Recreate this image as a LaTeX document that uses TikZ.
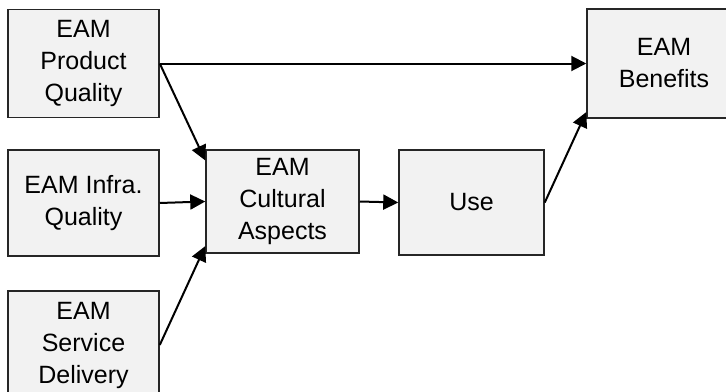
\documentclass[tikz,border=0pt]{standalone}
\usepackage{fontspec}
\setmainfont{Liberation Sans}
\usetikzlibrary{arrows.meta}
\definecolor{boxgray}{HTML}{F2F2F2}
\begin{document}
\begin{tikzpicture}
  [x=0.5pt,y=-0.5pt,
   every node/.style={draw=black!85,line width=0.75pt,fill=boxgray,align=center,
     font=\fontsize{12.5}{16}\selectfont,inner sep=0pt},
   arr/.style={line width=1pt,-{Triangle[length=7.5pt,width=7.5pt]}}]
\useasboundingbox (0,0) rectangle (726,391);
\node (prod)[minimum width=75.5pt,minimum height=54pt] at (83.5,63.5) {EAM\\Product\\Quality};
  \node (infra)[minimum width=75.5pt,minimum height=53pt] at (83.5,203) {EAM Infra.\\Quality};
  \node (serv)[minimum width=75.5pt,minimum height=54pt] at (83.5,345) {EAM\\Service\\Delivery};
  \node (cult)[minimum width=76.5pt,minimum height=51.5pt] at (282.5,201.5) {EAM\\Cultural\\Aspects};
  \node (use)[minimum width=72.5pt,minimum height=52.5pt] at (471.5,202.5) {Use};
  \node (bene)[minimum width=77pt,minimum height=54.5pt] at (664,63.5) {EAM\\Benefits};

 \draw[arr] (prod.east) -- (bene.west);
 \draw[arr] (prod.east) -- (cult.152);
 \draw[arr] (infra.east) -- (cult.west);
 \draw[arr] (serv.east) -- (cult.210);
 \draw[arr] (cult.east) -- (use.west);
 \draw[arr] (use.east) -- (bene.212);

\end{tikzpicture}
\end{document}
